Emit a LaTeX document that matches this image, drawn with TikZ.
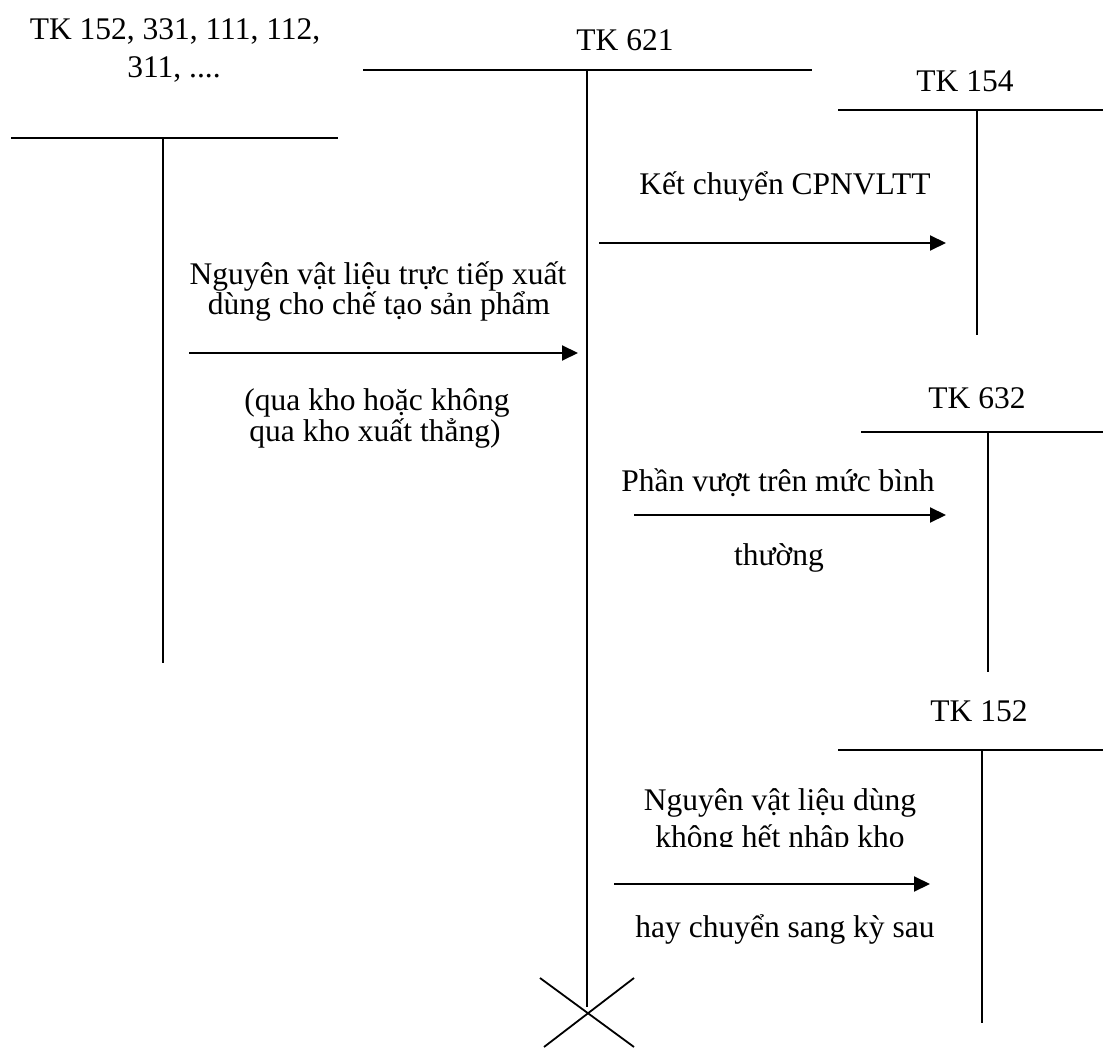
\documentclass[tikz,border=0pt]{standalone}
\usepackage{fontspec}
\setmainfont{Liberation Serif}
\usetikzlibrary{arrows.meta}
\begin{document}
\begin{tikzpicture}[x=1pt,y=-1pt,
  lbl/.style={anchor=base,inner sep=0pt,font=\fontsize{31.5}{36}\selectfont},
  tline/.style={line width=2.2pt},
  vline/.style={line width=1.8pt},
  flow/.style={line width=2pt,-{Triangle[length=16pt,width=15pt]}}]
\useasboundingbox[fill=white] (0,0) rectangle (1103,1048);

% ---- TK 152, 331, ... (left)
\node[lbl] (l1a) at (175,40) {TK 152, 331, 111, 112,};
\node[lbl] (l1b) at (174,78) {311, ....};
\coordinate (Lh1) at (11,138); \coordinate (Lh2) at (338,138);
\coordinate (Lv1) at (163,138); \coordinate (Lv2) at (163,663);
\draw[tline] (Lh1) -- (Lh2);
\draw[vline] (Lv1) -- (Lv2);

% ---- TK 621
\node[lbl] (t621) at (625,51) {TK 621};
\coordinate (Ah1) at (363,70); \coordinate (Ah2) at (812,70);
\coordinate (Av1) at (587,70); \coordinate (Av2) at (587,1007);
\draw[tline] (Ah1) -- (Ah2);
\draw[vline] (Av1) -- (Av2);
\coordinate (X1) at (540,978); \coordinate (X2) at (634,1047);
\coordinate (X3) at (634,978); \coordinate (X4) at (544,1047);
\draw[vline] (X1) -- (X2);
\draw[vline] (X3) -- (X4);

% ---- TK 154
\node[lbl] (t154) at (965,92) {TK 154};
\coordinate (Bh1) at (838,110); \coordinate (Bh2) at (1103,110);
\coordinate (Bv1) at (977,110); \coordinate (Bv2) at (977,335);
\draw[tline] (Bh1) -- (Bh2);
\draw[vline] (Bv1) -- (Bv2);

% ---- TK 632
\node[lbl] (t632) at (977,409) {TK 632};
\coordinate (Ch1) at (861,432); \coordinate (Ch2) at (1103,432);
\coordinate (Cv1) at (988,432); \coordinate (Cv2) at (988,672);
\draw[tline] (Ch1) -- (Ch2);
\draw[vline] (Cv1) -- (Cv2);

% ---- TK 152 (right)
\node[lbl] (t152) at (979,721) {TK 152};
\coordinate (Dh1) at (838,750); \coordinate (Dh2) at (1103,750);
\coordinate (Dv1) at (982,750); \coordinate (Dv2) at (982,1023);
\draw[tline] (Dh1) -- (Dh2);
\draw[vline] (Dv1) -- (Dv2);

% ---- arrow 1
\coordinate (a1s) at (189,353); \coordinate (a1e) at (578,353);
\draw[flow] (a1s) -- (a1e);
\node[lbl] (a1t1) at (378,285) {Nguyên vật liệu trực tiếp xuất};
\node[lbl] (a1t2) at (379,315) {dùng cho chế tạo sản phẩm};
\node[lbl] (a1t3) at (377,410) {(qua kho hoặc không};
\node[lbl] (a1t4) at (375,441) {qua kho xuất thẳng)};

% ---- arrow 2
\coordinate (a2s) at (599,243); \coordinate (a2e) at (946,243);
\draw[flow] (a2s) -- (a2e);
\node[lbl] (a2t) at (785,195) {Kết chuyển CPNVLTT};

% ---- arrow 3
\coordinate (a3s) at (634,515); \coordinate (a3e) at (946,515);
\draw[flow] (a3s) -- (a3e);
\node[lbl] (a3t1) at (778,491) {Phần vượt trên mức bình};
\node[lbl] (a3t2) at (779,565) {thường};

% ---- arrow 4
\coordinate (a4s) at (614,884); \coordinate (a4e) at (930,884);
\draw[flow] (a4s) -- (a4e);
\begin{scope}
  \clip (600,760) rectangle (960,846);
  \node[lbl] (a4t1) at (780,810) {Nguyên vật liệu dùng};
  \node[lbl] (a4t2) at (780,847) {không hết nhập kho};
\end{scope}
\node[lbl] (a4t3) at (785,937) {hay chuyển sang kỳ sau};
\end{tikzpicture}
\end{document}
